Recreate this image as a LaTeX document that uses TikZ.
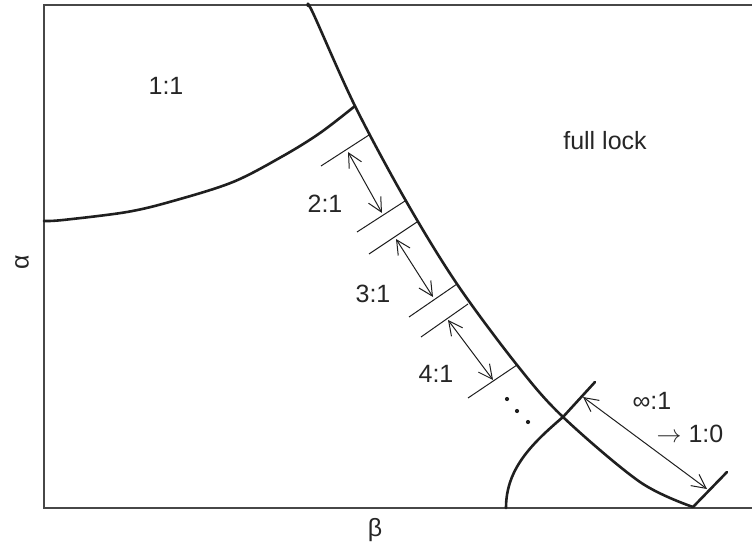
\documentclass[tikz,border=0pt]{standalone}
\usepackage{fontspec}
\setmainfont{Liberation Sans}
\usetikzlibrary{arrows.meta}
\tikzset{
  frame/.style={line width=2.3pt,draw=black!72},
  boundary/.style={line width=2.6pt,draw=black!88,line join=round,line cap=round},
  tick/.style={line width=1pt,draw=black!88},
  span/.style={
    {Straight Barb[length=14pt,width=14pt]}-{Straight Barb[length=14pt,width=14pt]},
    line width=1pt,
    draw=black!88
  },
  lbl/.style={font=\fontsize{25}{30}\selectfont,inner sep=0pt,text=black!85}
}

\begin{document}
\begin{tikzpicture}[x=1pt,y=-1pt]
  \useasboundingbox (0,0) rectangle (752,548);

  % Frame: left, top and bottom edges only.
  \draw[frame] (752,5) -- (44,5) -- (44,508) -- (752,508);

  % Points where the boundaries meet.
  \coordinate (top) at (308,6);
  \coordinate (meet) at (355,106);
  \coordinate (cross) at (563,417);
  \coordinate (foot) at (693,507);

  % Boundary of the full lock region.
  \draw[boundary] plot[smooth,tension=0.55] coordinates {
    (top) (313,13) (meet) (406,201) (457,284) (517,365) (cross) (640,482) (foot)};

  % Boundary of the 1:1 region.
  \draw[boundary] plot[smooth,tension=0.55] coordinates {
    (44,221) (63,220) (127,212) (173,201) (233,182) (283,156) (320,133) (meet)};

  % Boundary crossing near the bottom.
  \draw[boundary] (595,382) -- (cross)
    .. controls (530,445) and (506,470) .. (506,508);
  \draw[boundary] (foot) -- (727,472);

  % Thin ticks off the boundary.
  \foreach \n/\xa/\ya/\xb/\yb in {
    1/369/135/321/166,
    2/405/201/357/232,
    3/417/222/369/254,
    4/457/284/409/317,
    5/468/304/421/337,
    6/517/365/468/398%
  } {
    \coordinate (t\n a) at (\xa,\ya);
    \coordinate (t\n b) at (\xb,\yb);
    \draw[tick] (t\n a) -- (t\n b);
  }

  % Widths of the tongues.
  \foreach \n/\xa/\ya/\xb/\yb in {
    1/348/152/382/213,
    2/396/239/433/297,
    3/448/320/493/380,
    4/583/397/707/489%
  } {
    \coordinate (s\n a) at (\xa,\ya);
    \coordinate (s\n b) at (\xb,\yb);
    \draw[span] (s\n a) -- (s\n b);
  }

  % Dots for the higher tongues.
  \foreach \n/\xd/\yd in {1/507/399,2/517/411,3/528/422} {
    \fill[black!88] (\xd,\yd) circle (2.1pt) coordinate (d\n);
  }

  % Labels.
  \node[lbl] (one) at (166,86) {1:1};
  \node[lbl] (lock) at (605,141) {full lock};
  \node[lbl] (two) at (325,204) {2:1};
  \node[lbl] (three) at (373,294) {3:1};
  \node[lbl] (four) at (436,374) {4:1};
  \node[lbl] (inf) at (652,401) {∞:1};
  \node[lbl] (zero) at (690,434) {$\rightarrow$ 1:0};
  \node[lbl,rotate=90] (alpha) at (22,262) {α};
  \node[lbl] (beta) at (375,530) {β};
\end{tikzpicture}
\end{document}
